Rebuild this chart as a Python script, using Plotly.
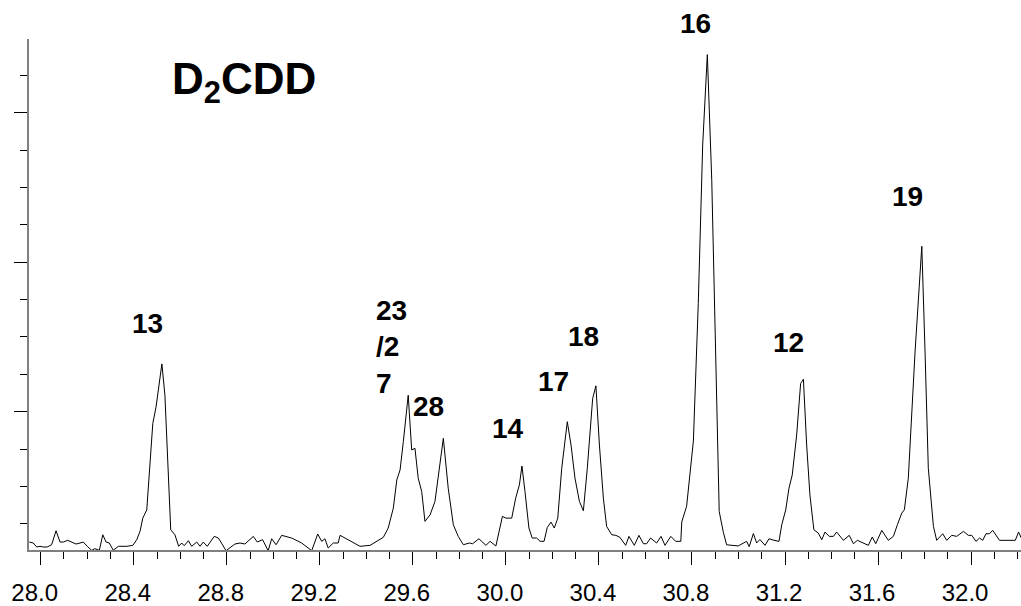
import plotly.graph_objects as go

# Retention time (min) and detector response (arbitrary units)
time_min = [
    27.951, 27.968, 27.983, 27.997, 28.011, 28.028, 28.047, 28.066, 28.083, 28.097,
    28.116, 28.133, 28.152, 28.169, 28.183, 28.200, 28.219, 28.233, 28.252, 28.267,
    28.281, 28.295, 28.312, 28.334, 28.348, 28.370, 28.396, 28.413, 28.427, 28.439,
    28.456, 28.482, 28.496, 28.521, 28.534, 28.559, 28.577, 28.593, 28.606, 28.617,
    28.635, 28.649, 28.671, 28.685, 28.699, 28.716, 28.746, 28.764, 28.797, 28.835,
    28.857, 28.878, 28.914, 28.931, 28.954, 28.978, 28.993, 29.012, 29.036, 29.079,
    29.122, 29.165, 29.191, 29.208, 29.222, 29.236, 29.258, 29.279, 29.287, 29.330,
    29.373, 29.416, 29.445, 29.473, 29.494, 29.516, 29.531, 29.545, 29.559, 29.580,
    29.595, 29.609, 29.623, 29.638, 29.652, 29.674, 29.695, 29.731, 29.752, 29.774,
    29.795, 29.817, 29.843, 29.857, 29.884, 29.914, 29.932, 29.957, 29.985, 30.000,
    30.025, 30.042, 30.058, 30.069, 30.082, 30.099, 30.113, 30.132, 30.147, 30.164,
    30.178, 30.194, 30.208, 30.223, 30.240, 30.264, 30.280, 30.297, 30.316, 30.333,
    30.350, 30.373, 30.387, 30.402, 30.419, 30.433, 30.455, 30.473, 30.490, 30.515,
    30.529, 30.552, 30.572, 30.591, 30.605, 30.622, 30.648, 30.667, 30.684, 30.709,
    30.730, 30.752, 30.756, 30.777, 30.806, 30.827, 30.846, 30.866, 30.885, 30.899,
    30.917, 30.935, 30.949, 30.999, 31.035, 31.046, 31.064, 31.078, 31.092, 31.114,
    31.131, 31.153, 31.174, 31.186, 31.203, 31.217, 31.231, 31.250, 31.267, 31.279,
    31.293, 31.307, 31.324, 31.343, 31.358, 31.372, 31.390, 31.408, 31.422, 31.451,
    31.476, 31.494, 31.511, 31.558, 31.575, 31.590, 31.616, 31.644, 31.666, 31.683,
    31.702, 31.713, 31.730, 31.759, 31.788, 31.802, 31.816, 31.838, 31.852, 31.878,
    31.895, 31.917, 31.938, 31.967, 31.988, 32.003, 32.021, 32.036, 32.050, 32.064,
    32.079, 32.093, 32.122, 32.190, 32.204, 32.216,
]
response = [
    0.513, 0.487, 0.380, 0.399, 0.380, 0.380, 0.441, 0.815, 0.513, 0.513,
    0.559, 0.513, 0.460, 0.487, 0.513, 0.399, 0.292, 0.335, 0.292, 0.708,
    0.513, 0.487, 0.292, 0.399, 0.399, 0.399, 0.425, 0.575, 0.799, 1.153,
    1.375, 3.687, 4.132, 5.279, 4.441, 0.841, 0.708, 0.399, 0.487, 0.415,
    0.548, 0.399, 0.513, 0.399, 0.513, 0.399, 0.665, 0.620, 0.281, 0.460,
    0.487, 0.460, 0.665, 0.513, 0.575, 0.281, 0.601, 0.441, 0.692, 0.620,
    0.487, 0.281, 0.727, 0.532, 0.601, 0.353, 0.487, 0.487, 0.692, 0.548,
    0.399, 0.425, 0.532, 0.639, 0.887, 1.420, 2.175, 2.441, 3.199, 4.441,
    2.975, 3.020, 2.220, 1.865, 1.065, 1.241, 1.599, 3.287, 1.953, 0.975,
    0.665, 0.441, 0.487, 0.468, 0.601, 0.425, 0.532, 0.407, 1.199, 1.153,
    1.153, 1.687, 2.041, 2.548, 1.865, 0.887, 0.620, 0.620, 0.532, 0.532,
    0.905, 1.047, 0.887, 1.153, 2.487, 3.732, 3.108, 2.220, 1.599, 1.348,
    2.487, 4.353, 4.692, 3.108, 1.687, 0.932, 0.708, 0.692, 0.639, 0.425,
    0.665, 0.425, 0.692, 0.468, 0.468, 0.620, 0.487, 0.665, 0.425, 0.665,
    0.532, 0.532, 1.049, 1.473, 3.217, 6.892, 11.132, 13.553, 10.193, 5.953,
    1.332, 0.769, 0.439, 0.409, 0.532, 0.391, 0.740, 0.487, 0.580, 0.425,
    0.601, 0.559, 0.532, 0.975, 1.375, 1.953, 2.308, 3.375, 4.753, 4.868,
    3.108, 1.775, 0.841, 0.753, 0.575, 0.780, 0.665, 0.665, 0.780, 0.559,
    0.692, 0.468, 0.559, 0.425, 0.647, 0.468, 0.825, 0.559, 0.665, 0.975,
    1.287, 1.375, 2.220, 5.599, 8.425, 5.599, 2.487, 0.932, 0.559, 0.735,
    0.559, 0.692, 0.665, 0.799, 0.692, 0.692, 0.532, 0.620, 0.559, 0.735,
    0.735, 0.825, 0.559, 0.559, 0.780, 0.620,
]

# Peak labels (congener numbers) and their positions
peak_labels = ["13", "23<br>/2<br>7", "28", "14", "17", "18", "12", "19"]
peak_label_x = [28.459, 29.435, 29.669, 30.010, 30.206, 30.333, 31.213, 31.726]
peak_label_y = [6.353, 5.743, 4.132, 3.553, 4.812, 5.999, 5.847, 9.745]
top_label = "16"
top_label_x = 30.813

x_tick_vals = [28.0, 28.4, 28.8, 29.2, 29.6, 30.0, 30.4, 30.8, 31.2, 31.6, 32.0]
x_tick_text = ["28.0", "28.4", "28.8", "29.2", "29.6", "30.0", "30.4", "30.8", "31.2", "31.6", "32.0"]
y_tick_vals = [4, 8, 12]

fig = go.Figure()
fig.add_trace(go.Scatter(
    x=time_min, y=response, mode="lines",
    line=dict(color="black", width=1),
    hoverinfo="skip", showlegend=False,
))

label_font = dict(family="Liberation Sans, Arial, sans-serif", size=28, color="black")
annotations = []
for txt, lx, ly in zip(peak_labels, peak_label_x, peak_label_y):
    multi = "<br>" in txt
    annotations.append(dict(
        x=lx, y=ly, xref="x", yref="y", text="<b>" + txt + "</b>",
        showarrow=False, font=label_font,
        xanchor="left" if multi else "center", yanchor="middle",
        align="left",
    ))
annotations.append(dict(
    x=top_label_x, y=1.0297, xref="x", yref="paper", text="<b>" + top_label + "</b>",
    showarrow=False, font=label_font, xanchor="center", yanchor="middle",
))
annotations.append(dict(
    x=28.556, y=0.915, xref="x", yref="paper", text="<b>D<sub>2</sub>CDD</b>",
    showarrow=False, font=dict(family="Liberation Sans, Arial, sans-serif", size=44, color="black"),
    xanchor="left", yanchor="middle",
))

fig.update_layout(
    width=1021, height=606,
    margin=dict(l=29, r=0, t=39, b=54),
    paper_bgcolor="white", plot_bgcolor="white",
    annotations=annotations,
    xaxis=dict(
        range=[27.9497, 32.2145],
        tickmode="array", tickvals=x_tick_vals, ticktext=x_tick_text,
        ticks="outside", ticklen=13, tickwidth=1, tickcolor="black",
        minor=dict(dtick=0.1, tick0=28.0, ticks="outside", ticklen=7, tickwidth=1, tickcolor="black", showgrid=False),
        showline=True, linecolor="#808080", linewidth=2,
        showgrid=False, zeroline=False,
        tickfont=dict(family="Liberation Sans, Arial, sans-serif", size=24, color="black"),
        ticklabelshift=-6, ticklabelstandoff=7,
    ),
    yaxis=dict(
        range=[0.3, 13.97],
        tickmode="array", tickvals=y_tick_vals,
        ticks="outside", ticklen=13, tickwidth=1, tickcolor="black",
        minor=dict(dtick=1, tick0=0, ticks="outside", ticklen=7, tickwidth=1, tickcolor="black", showgrid=False),
        showticklabels=False,
        showline=True, linecolor="#808080", linewidth=2,
        showgrid=False, zeroline=False,
    ),
)

fig.write_html("out.html")
